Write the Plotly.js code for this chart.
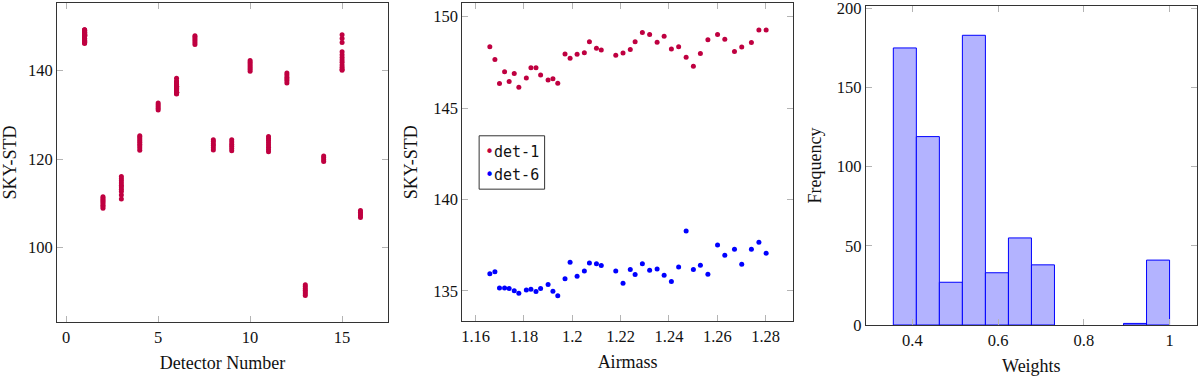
<!DOCTYPE html>
<html>
<head>
<meta charset="utf-8">
<script src="https://cdn.plot.ly/plotly-3.0.1.min.js"></script>
<style>
  html, body { margin: 0; padding: 0; background: #fff; }
  #chart { width: 1200px; height: 379px; }
</style>
</head>
<body>
<div id="chart"></div>
<script>
// --- data ---

// airmass of each exposure (shared by det-1 and det-6)
const airmass = [1.1659, 1.1680, 1.1699, 1.1720, 1.1739, 1.1760, 1.1779, 1.1810, 1.1829, 1.1850,
                 1.1869, 1.1900, 1.1920, 1.1940, 1.1970, 1.1991, 1.2020, 1.2050, 1.2071, 1.2100,
                 1.2120, 1.2180, 1.2210, 1.2240, 1.2260, 1.2290, 1.2320, 1.2351, 1.2380, 1.2410,
                 1.2440, 1.2471, 1.2501, 1.2530, 1.2561, 1.2601, 1.2631, 1.2671, 1.2701, 1.2741,
                 1.2772, 1.2802];

const det1 = [148.36, 147.65, 146.34, 146.98, 146.45, 146.89, 146.14, 146.65, 147.21, 147.21,
              146.81, 146.54, 146.61, 146.36, 147.96, 147.72, 147.94, 148.03, 148.63, 148.27,
              148.18, 147.89, 148.01, 148.21, 148.63, 149.14, 149.02, 148.60, 148.93, 148.23,
              148.36, 147.78, 147.29, 147.98, 148.74, 149.02, 148.76, 148.09, 148.34, 148.58,
              149.27, 149.27];

const det6 = [135.93, 136.04, 135.15, 135.15, 135.13, 135.00, 134.87, 135.05, 135.09, 134.96,
              135.13, 135.35, 134.98, 134.73, 135.66, 136.57, 135.80, 136.09, 136.53, 136.48,
              136.38, 136.09, 135.42, 136.17, 135.89, 136.48, 136.13, 136.20, 135.86, 135.51,
              136.31, 138.28, 136.17, 136.40, 135.91, 137.51, 136.95, 137.28, 136.46, 137.28,
              137.66, 137.06];

// SKY-STD per detector (left panel)
const detectorNumbers = [1, 2, 3, 4, 5, 6, 7, 8, 9, 10, 11, 12, 13, 14, 15, 16];
const skyStdByDetector = [
  det1,
  [108.9, 109.3, 109.6, 110.0, 110.3, 110.6, 110.9, 111.2, 111.5],
  [111.0, 111.9, 112.7, 113.2, 113.7, 114.1, 114.6, 115.1, 115.6, 116.1],
  [122.0, 122.5, 123.0, 123.4, 123.8, 124.2, 124.6, 125.0, 125.3],
  [131.1, 131.5, 131.9, 132.3, 132.7],
  det6,
  [145.9, 146.4, 146.8, 147.2, 147.6, 147.9],
  [122.1, 122.6, 123.1, 123.5, 124.0, 124.4],
  [121.9, 122.4, 122.9, 123.4, 123.9, 124.4],
  [139.9, 140.3, 140.7, 141.1, 141.5, 141.9, 142.3],
  [121.7, 122.2, 122.7, 123.2, 123.7, 124.2, 124.7, 125.1],
  [137.2, 137.7, 138.1, 138.5, 139.0, 139.5],
  [89.2, 89.6, 90.0, 90.4, 90.8, 91.2, 91.6],
  [119.5, 119.9, 120.3, 120.7],
  [148.1, 147.3, 146.4, 144.3, 143.6, 143.0, 142.4, 141.9, 141.3, 140.8, 140.3, 140.1],
  [106.8, 107.2, 107.6, 108.0, 108.4]
];

// histogram of weights (right panel)
const weightBinEdges = [0.3556, 0.4093, 0.4630, 0.5167, 0.5704, 0.6241, 0.6778,
                        0.7315, 0.7852, 0.8389, 0.8926, 0.9463, 1.0];
const weightCounts = [175, 119, 27, 183, 33, 55, 38, 0, 0, 0, 1, 41];

// --- styling ---
const PURPLE = 'rgb(191,0,64)';
const BLUE = 'rgb(0,0,255)';
const SERIF = 'Liberation Serif, Times New Roman, serif';
const MONO = 'DejaVu Sans Mono, Liberation Mono, monospace';

function axisStyle(extra) {
    return Object.assign({
        showline: true, linecolor: '#333', linewidth: 1, mirror: 'ticks',
        ticks: 'inside', ticklen: 6, tickcolor: '#b4b4b4', tickwidth: 1,
        showgrid: false, zeroline: false,
        tickfont: { family: SERIF, size: 16.5, color: '#111' },
        ticklabeloverflow: 'allow',
        automargin: false
    }, extra);
}

// flatten left panel points
const detX = [];
const detY = [];
detectorNumbers.forEach((d, i) => {
    skyStdByDetector[i].forEach(v => { detX.push(d); detY.push(v); });
});

const binCenters = weightCounts.map((_, i) => (weightBinEdges[i] + weightBinEdges[i + 1]) / 2);
const binWidths = weightCounts.map((_, i) => weightBinEdges[i + 1] - weightBinEdges[i]);
// empty bins get no outline (pgfplots draws nothing there)
const binOutline = weightCounts.map(c => (c > 0 ? 1 : 0));

const traces = [
    {
        x: detX, y: detY, xaxis: 'x', yaxis: 'y',
        type: 'scatter', mode: 'markers',
        marker: { color: PURPLE, size: 5 },
        showlegend: false
    },
    {
        x: airmass, y: det1, xaxis: 'x2', yaxis: 'y2',
        type: 'scatter', mode: 'markers', name: 'det-1',
        marker: { color: PURPLE, size: 5 },
        showlegend: false
    },
    {
        x: airmass, y: det6, xaxis: 'x2', yaxis: 'y2',
        type: 'scatter', mode: 'markers', name: 'det-6',
        marker: { color: BLUE, size: 5 },
        showlegend: false
    },
    {
        x: binCenters, y: weightCounts, width: binWidths, xaxis: 'x3', yaxis: 'y3',
        type: 'bar',
        marker: { color: 'rgb(179,179,255)', line: { color: BLUE, width: binOutline } },
        showlegend: false
    }
];

const titleFont = { family: SERIF, size: 18, color: '#111' };

const layout = {
    width: 1200, height: 379,
    margin: { l: 57, r: 3, t: 3, b: 54 },
    paper_bgcolor: '#fff', plot_bgcolor: '#fff',
    showlegend: false,
    bargap: 0,
    xaxis: axisStyle({
        domain: [0, 0.2904], anchor: 'y', range: [-0.5, 17.5],
        tickvals: [0, 5, 10, 15],
        title: { text: 'Detector Number', font: titleFont, standoff: 10 }
    }),
    yaxis: axisStyle({
        domain: [0.0093, 1], anchor: 'x', range: [83.2, 155.3],
        tickvals: [100, 120, 140],
        title: { text: 'SKY-STD', font: titleFont, standoff: 10 }
    }),
    xaxis2: axisStyle({
        domain: [0.3555, 0.6456], anchor: 'y2', range: [1.1545, 1.2913],
        tickvals: [1.16, 1.18, 1.2, 1.22, 1.24, 1.26, 1.28],
        ticktext: ['1.16', '1.18', '1.2', '1.22', '1.24', '1.26', '1.28'],
        title: { text: 'Airmass', font: titleFont, standoff: 10 }
    }),
    yaxis2: axisStyle({
        domain: [0.0124, 0.999], anchor: 'x2', range: [133.35, 150.73],
        tickvals: [135, 140, 145, 150],
        title: { text: 'SKY-STD', font: titleFont, standoff: 10 }
    }),
    xaxis3: axisStyle({
        domain: [0.7094, 1], anchor: 'y3', range: [0.2912, 1.064],
        tickvals: [0.4, 0.6, 0.8, 1],
        ticktext: ['0.4', '0.6', '0.8', '1'],
        title: { text: 'Weights', font: titleFont, standoff: 10 }
    }),
    yaxis3: axisStyle({
        domain: [0, 0.9907], anchor: 'x3', range: [0, 201.5],
        tickvals: [0, 50, 100, 150, 200],
        title: { text: 'Frequency', font: titleFont, standoff: 10 }
    }),
    // legend box of the middle panel
    shapes: [{
        type: 'rect', xref: 'x2 domain', yref: 'y2 domain',
        x0: 0.051, x1: 0.249, y0: 0.415, y1: 0.583,
        line: { color: '#333', width: 1 }, fillcolor: '#fff', layer: 'above'
    }],
    annotations: [
        {
            xref: 'x2 domain', yref: 'y2 domain', x: 0.062, y: 0.533,
            xanchor: 'left', yanchor: 'middle', showarrow: false,
            text: '<span style="color:' + PURPLE + '">•</span>det-1',
            font: { family: MONO, size: 15, color: '#111' }
        },
        {
            xref: 'x2 domain', yref: 'y2 domain', x: 0.062, y: 0.46,
            xanchor: 'left', yanchor: 'middle', showarrow: false,
            text: '<span style="color:' + BLUE + '">•</span>det-6',
            font: { family: MONO, size: 15, color: '#111' }
        }
    ]
};

Plotly.newPlot('chart', traces, layout, { staticPlot: true, displayModeBar: false });
</script>
</body>
</html>
